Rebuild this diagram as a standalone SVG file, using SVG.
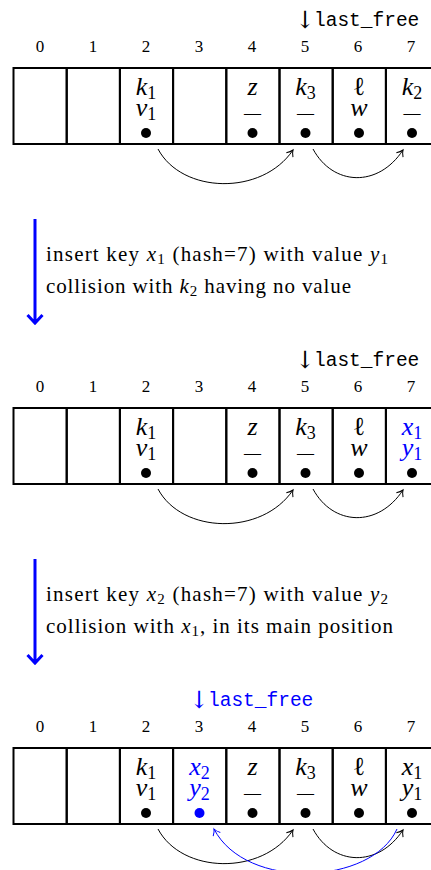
<svg xmlns="http://www.w3.org/2000/svg" width="431" height="870" viewBox="0 0 431 870">
<style>
.bg{fill:#fff}
.cell{fill:none;stroke:#000;stroke-width:2}
.idx{font-family:"Liberation Serif",serif;font-size:17px;text-anchor:middle;fill:#000}
.m{font-family:"Liberation Serif",serif;font-style:italic;font-size:26px;text-anchor:middle;fill:#000}
.sub{font-style:normal;font-size:18px}
.up{font-style:normal}
.dot{fill:#000}
.lf{font-family:"Liberation Mono",monospace;font-size:19.5px;fill:#000}
.arr{font-family:"DejaVu Serif",serif;font-size:24px;text-anchor:middle;fill:#000}
.txt{font-family:"Liberation Serif",serif;font-size:21px;fill:#000}
.mi{font-style:italic}
.ts{font-size:15px}
.curve{fill:none;stroke:#000;stroke-width:1;marker-end:url(#ah)}
.blue{fill:#0000ff}
.bcurve{fill:none;stroke:#0000ff;stroke-width:1;marker-end:url(#ahb)}
.step{fill:none;stroke:#0000ff;stroke-width:3}
</style>
<defs>
<marker id="ah" markerUnits="userSpaceOnUse" markerWidth="14" markerHeight="14" viewBox="-8 -7 10 14" refX="0" refY="0" orient="auto">
<path d="M-6,-4 Q-3,-1 0,0 Q-3,1 -6,4" fill="none" stroke="#000" stroke-width="1"/>
</marker>
<marker id="ahb" markerUnits="userSpaceOnUse" markerWidth="14" markerHeight="14" viewBox="-8 -7 10 14" refX="0" refY="0" orient="auto">
<path d="M-6,-4 Q-3,-1 0,0 Q-3,1 -6,4" fill="none" stroke="#0000ff" stroke-width="1"/>
</marker>
</defs>
<rect class="bg" x="0" y="0" width="431" height="870"/>

<!-- Panel 1 -->
<g id="panel1">
<g id="p1-lastfree"><text class="arr" x="305" y="28">↓</text><text class="lf" x="314" y="26">last_free</text></g>
<g id="p1-indices">
<text class="idx" x="40" y="52">0</text><text class="idx" x="93" y="52">1</text><text class="idx" x="146" y="52">2</text><text class="idx" x="199" y="52">3</text><text class="idx" x="252" y="52">4</text><text class="idx" x="305" y="52">5</text><text class="idx" x="358" y="52">6</text><text class="idx" x="411" y="52">7</text>
</g>
<g id="p1-c0"><rect class="cell" x="13.5" y="68" width="53.2" height="76"/></g>
<g id="p1-c1"><rect class="cell" x="66.7" y="68" width="53.2" height="76"/></g>
<g id="p1-c2"><rect class="cell" x="119.9" y="68" width="53.2" height="76"/>
<text class="m"><tspan x="146" y="95">k</tspan><tspan class="sub" dy="4">1</tspan><tspan x="146" y="116">v</tspan><tspan class="sub" dy="4">1</tspan></text>
<circle class="dot" cx="146" cy="133" r="5"/></g>
<g id="p1-c3"><rect class="cell" x="173.1" y="68" width="53.2" height="76"/></g>
<g id="p1-c4"><rect class="cell" x="226.3" y="68" width="53.2" height="76"/>
<text class="m"><tspan x="252.5" y="95">z</tspan><tspan class="up" x="252.5" y="118" style="font-size:17px">—</tspan></text>
<circle class="dot" cx="252.5" cy="133" r="5"/></g>
<g id="p1-c5"><rect class="cell" x="279.5" y="68" width="53.2" height="76"/>
<text class="m"><tspan x="305.5" y="95">k</tspan><tspan class="sub" dy="4">3</tspan><tspan class="up" x="305.5" y="118" style="font-size:17px">—</tspan></text>
<circle class="dot" cx="305.5" cy="133" r="5"/></g>
<g id="p1-c6"><rect class="cell" x="332.7" y="68" width="53.2" height="76"/>
<text class="m"><tspan class="up" x="359" y="95">ℓ</tspan><tspan x="359" y="116">w</tspan></text>
<circle class="dot" cx="359" cy="133" r="5"/></g>
<g id="p1-c7"><rect class="cell" x="385.9" y="68" width="53.2" height="76"/>
<text class="m"><tspan x="412" y="95">k</tspan><tspan class="sub" dy="4">2</tspan><tspan class="up" x="412" y="118" style="font-size:17px">—</tspan></text>
<circle class="dot" cx="412" cy="133" r="5"/></g>
<g id="p1-connectors">
<path class="curve" d="M158,149 C182,194 262,196 293,150"/>
<path class="curve" d="M313,149 C333,186 378,188 403,150"/>
</g>
</g>

<!-- Step 1 -->
<g id="step1">
<path class="step" d="M35,219 V323 M27.5,315 L35,323 L42.5,315"/>
<text class="txt" x="46" y="261" textLength="342" lengthAdjust="spacing">insert key <tspan class="mi">x</tspan><tspan class="ts" dy="3">1</tspan><tspan dy="-3"> (hash=7) with value </tspan><tspan class="mi">y</tspan><tspan class="ts" dy="3">1</tspan></text>
<text class="txt" x="46" y="293" textLength="305" lengthAdjust="spacing">collision with <tspan class="mi">k</tspan><tspan class="ts" dy="3">2</tspan><tspan dy="-3"> having no value</tspan></text>
</g>

<!-- Panel 2 -->
<g id="panel2" transform="translate(0,340)">
<g id="p2-lastfree"><text class="arr" x="305" y="28">↓</text><text class="lf" x="314" y="26">last_free</text></g>
<g id="p2-indices">
<text class="idx" x="40" y="52">0</text><text class="idx" x="93" y="52">1</text><text class="idx" x="146" y="52">2</text><text class="idx" x="199" y="52">3</text><text class="idx" x="252" y="52">4</text><text class="idx" x="305" y="52">5</text><text class="idx" x="358" y="52">6</text><text class="idx" x="411" y="52">7</text>
</g>
<g id="p2-c0"><rect class="cell" x="13.5" y="68" width="53.2" height="76"/></g>
<g id="p2-c1"><rect class="cell" x="66.7" y="68" width="53.2" height="76"/></g>
<g id="p2-c2"><rect class="cell" x="119.9" y="68" width="53.2" height="76"/>
<text class="m"><tspan x="146" y="95">k</tspan><tspan class="sub" dy="4">1</tspan><tspan x="146" y="116">v</tspan><tspan class="sub" dy="4">1</tspan></text>
<circle class="dot" cx="146" cy="133" r="5"/></g>
<g id="p2-c3"><rect class="cell" x="173.1" y="68" width="53.2" height="76"/></g>
<g id="p2-c4"><rect class="cell" x="226.3" y="68" width="53.2" height="76"/>
<text class="m"><tspan x="252.5" y="95">z</tspan><tspan class="up" x="252.5" y="118" style="font-size:17px">—</tspan></text>
<circle class="dot" cx="252.5" cy="133" r="5"/></g>
<g id="p2-c5"><rect class="cell" x="279.5" y="68" width="53.2" height="76"/>
<text class="m"><tspan x="305.5" y="95">k</tspan><tspan class="sub" dy="4">3</tspan><tspan class="up" x="305.5" y="118" style="font-size:17px">—</tspan></text>
<circle class="dot" cx="305.5" cy="133" r="5"/></g>
<g id="p2-c6"><rect class="cell" x="332.7" y="68" width="53.2" height="76"/>
<text class="m"><tspan class="up" x="359" y="95">ℓ</tspan><tspan x="359" y="116">w</tspan></text>
<circle class="dot" cx="359" cy="133" r="5"/></g>
<g id="p2-c7"><rect class="cell" x="385.9" y="68" width="53.2" height="76"/>
<text class="m blue"><tspan x="412" y="95">x</tspan><tspan class="sub" dy="4">1</tspan><tspan x="412" y="116">y</tspan><tspan class="sub" dy="4">1</tspan></text>
<circle class="dot" cx="412" cy="133" r="5"/></g>
<g id="p2-connectors">
<path class="curve" d="M158,149 C182,194 262,196 293,150"/>
<path class="curve" d="M313,149 C333,186 378,188 403,150"/>
</g>
</g>

<!-- Step 2 -->
<g id="step2" transform="translate(0,340)">
<path class="step" d="M35,219 V323 M27.5,315 L35,323 L42.5,315"/>
<text class="txt" x="46" y="261" textLength="342" lengthAdjust="spacing">insert key <tspan class="mi">x</tspan><tspan class="ts" dy="3">2</tspan><tspan dy="-3"> (hash=7) with value </tspan><tspan class="mi">y</tspan><tspan class="ts" dy="3">2</tspan></text>
<text class="txt" x="46" y="293" textLength="347" lengthAdjust="spacing">collision with <tspan class="mi">x</tspan><tspan class="ts" dy="3">1</tspan><tspan dy="-3">, in its main position</tspan></text>
</g>

<!-- Panel 3 -->
<g id="panel3" transform="translate(0,680)">
<g id="p3-lastfree"><text class="arr blue" x="199" y="28">↓</text><text class="lf blue" x="208" y="26">last_free</text></g>
<g id="p3-indices">
<text class="idx" x="40" y="52">0</text><text class="idx" x="93" y="52">1</text><text class="idx" x="146" y="52">2</text><text class="idx" x="199" y="52">3</text><text class="idx" x="252" y="52">4</text><text class="idx" x="305" y="52">5</text><text class="idx" x="358" y="52">6</text><text class="idx" x="411" y="52">7</text>
</g>
<g id="p3-c0"><rect class="cell" x="13.5" y="68" width="53.2" height="76"/></g>
<g id="p3-c1"><rect class="cell" x="66.7" y="68" width="53.2" height="76"/></g>
<g id="p3-c2"><rect class="cell" x="119.9" y="68" width="53.2" height="76"/>
<text class="m"><tspan x="146" y="95">k</tspan><tspan class="sub" dy="4">1</tspan><tspan x="146" y="116">v</tspan><tspan class="sub" dy="4">1</tspan></text>
<circle class="dot" cx="146" cy="133" r="5"/></g>
<g id="p3-c3"><rect class="cell" x="173.1" y="68" width="53.2" height="76"/>
<text class="m blue"><tspan x="199.5" y="95">x</tspan><tspan class="sub" dy="4">2</tspan><tspan x="199.5" y="116">y</tspan><tspan class="sub" dy="4">2</tspan></text>
<circle class="blue" cx="199.5" cy="133" r="5"/></g>
<g id="p3-c4"><rect class="cell" x="226.3" y="68" width="53.2" height="76"/>
<text class="m"><tspan x="252.5" y="95">z</tspan><tspan class="up" x="252.5" y="118" style="font-size:17px">—</tspan></text>
<circle class="dot" cx="252.5" cy="133" r="5"/></g>
<g id="p3-c5"><rect class="cell" x="279.5" y="68" width="53.2" height="76"/>
<text class="m"><tspan x="305.5" y="95">k</tspan><tspan class="sub" dy="4">3</tspan><tspan class="up" x="305.5" y="118" style="font-size:17px">—</tspan></text>
<circle class="dot" cx="305.5" cy="133" r="5"/></g>
<g id="p3-c6"><rect class="cell" x="332.7" y="68" width="53.2" height="76"/>
<text class="m"><tspan class="up" x="359" y="95">ℓ</tspan><tspan x="359" y="116">w</tspan></text>
<circle class="dot" cx="359" cy="133" r="5"/></g>
<g id="p3-c7"><rect class="cell" x="385.9" y="68" width="53.2" height="76"/>
<text class="m"><tspan x="412" y="95">x</tspan><tspan class="sub" dy="4">1</tspan><tspan x="412" y="116">y</tspan><tspan class="sub" dy="4">1</tspan></text>
<circle class="dot" cx="412" cy="133" r="5"/></g>
<g id="p3-connectors">
<path class="curve" d="M158,149 C182,194 262,196 293,150"/>
<path class="curve" d="M313,149 C333,186 378,188 403,150"/>
<path class="bcurve" d="M397,149 C372,205 246,211 214,149"/>
</g>
</g>
</svg>
